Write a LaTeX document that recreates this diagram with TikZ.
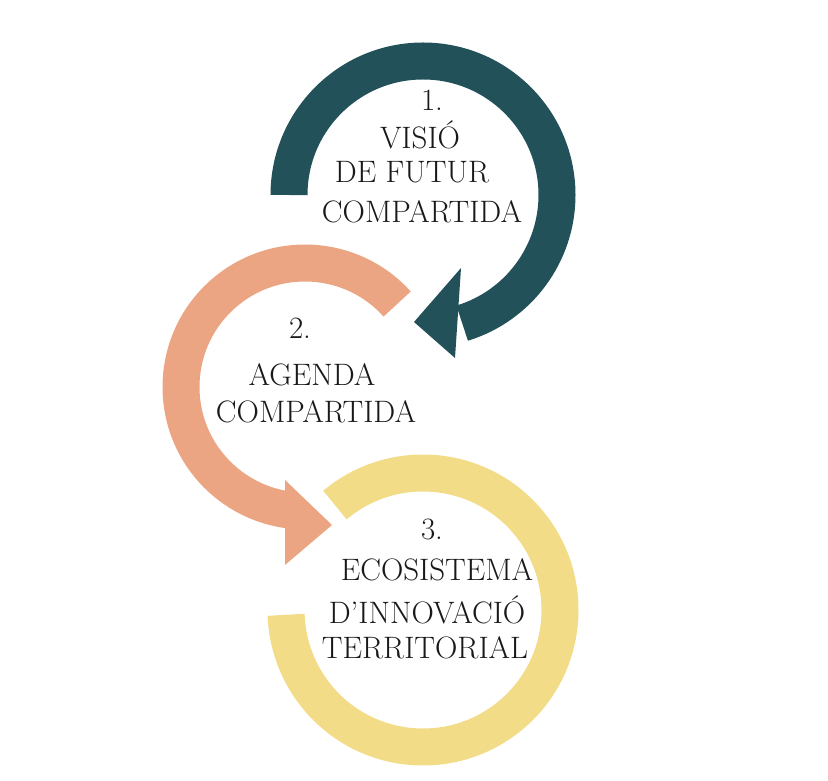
\documentclass[tikz,border=0pt]{standalone}
\usetikzlibrary{calc}
\definecolor{teal1}{HTML}{22515A}
\definecolor{salmon}{HTML}{EBA582}
\definecolor{yell}{HTML}{F3DC87}
\begin{document}
\begin{tikzpicture}[x=1pt,y=1pt,
  band/.style={line width=37pt},
  lbl/.style={font=\fontsize{31}{34}\selectfont, text=black!90, inner sep=0pt}]
\useasboundingbox (0,0) rectangle (828,780);
\coordinate (c1) at (423,585);
\coordinate (c2) at (305,393);
\coordinate (c3) at (423,170);
% yellow
\draw[band,yell] ($(c3)+(130:137)$) arc[start angle=130,end angle=-178,radius=137];
% salmon
\draw[band,salmon] ($(c2)+(42:124)$) arc[start angle=42,end angle=264,radius=124];
\fill[salmon] ($(c2)+(-20,-93)$) -- ($(c2)+(-20,-178)$) -- ($(c2)+(27,-138)$) -- cycle;
% teal
\draw[band,teal1] ($(c1)+(180:134)$) arc[start angle=180,end angle=-73,radius=134];
\fill[teal1] ($(c1)+(38,-73)$) -- ($(c1)+(32,-163)$) -- ($(c1)+(-9,-127)$) -- cycle;
% texts
\node[lbl] (t1a) at (432,680) {1.};
\node[lbl] (t1b) at (420,645) {VISIÓ};
\node[lbl] (t1c) at (412,608) {DE FUTUR};
\node[lbl] (t1d) at (422,568) {COMPARTIDA};
\node[lbl] (t2a) at (300,452) {2.};
\node[lbl] (t2b) at (312,405) {AGENDA};
\node[lbl] (t2c) at (316,368) {COMPARTIDA};
\node[lbl] (t3a) at (432,250) {3.};
\node[lbl] (t3b) at (437,210) {ECOSISTEMA};
\node[lbl] (t3c) at (427,170) {D’INNOVACIÓ};
\node[lbl] (t3d) at (425,132) {TERRITORIAL};
\end{tikzpicture}
\end{document}
